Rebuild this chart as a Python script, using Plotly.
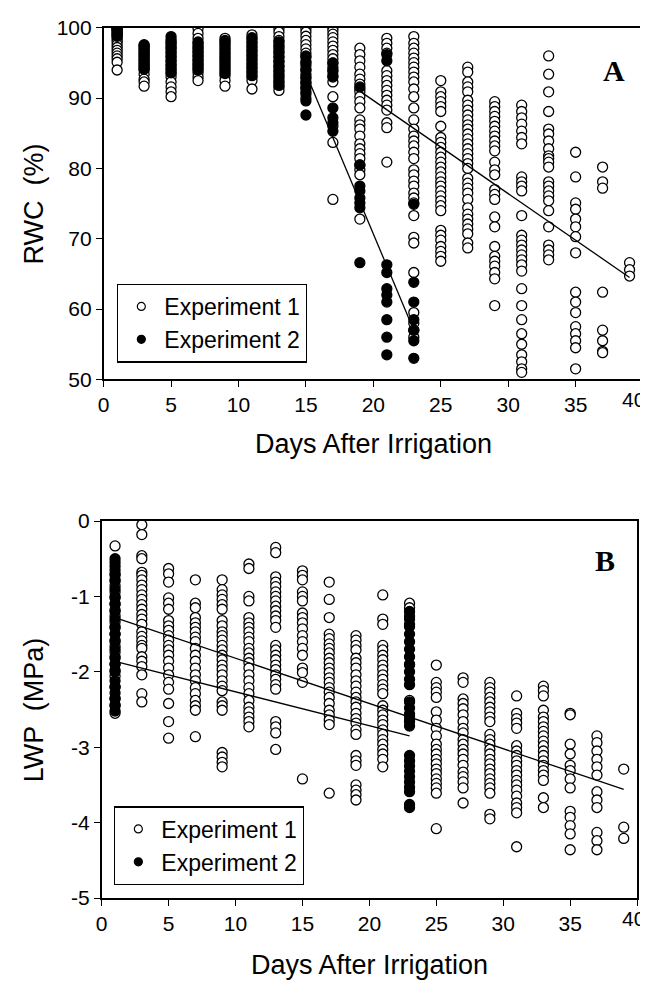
import plotly.graph_objects as go

# ---------------- Panel A : RWC (%) ----------------
rwc1_d01 = [100, 99.8, 99.5, 99.2, 98.9, 98.6, 98.3, 98.0, 97.6, 97.2, 96.8, 96.4, 96.0, 95.6, 95.1, 94.0]
rwc1_d03 = [97.5, 97.0, 96.5, 96.0, 95.5, 95.0, 94.5, 94.0, 93.4, 92.7, 92.3, 91.7]
rwc1_d05 = [98.0, 97.5, 97.0, 96.4, 95.8, 95.2, 94.6, 94.0, 93.5, 93.0, 92.3, 91.6, 90.9, 90.2]
rwc1_d07 = [99.9, 99.2, 98.5, 97.8, 97.2, 96.6, 96.0, 95.4, 94.8, 94.2, 93.6, 93.0, 92.5]
rwc1_d09 = [98.5, 98.0, 97.4, 96.8, 96.2, 95.6, 95.0, 94.4, 93.8, 93.2, 92.5, 91.7]
rwc1_d11 = [99.0, 98.4, 97.8, 97.2, 96.6, 96.0, 95.4, 94.8, 94.2, 93.6, 93.0, 92.5, 91.3]
rwc1_d13 = [99.9, 99.4, 98.75, 98.2, 97.6, 97.0, 96.4, 95.8, 95.2, 94.6, 94.0, 93.4, 92.8, 92.2, 91.6, 91.1]
rwc1_d15 = [99.9, 99.4, 98.8, 98.2, 97.6, 97.0, 96.4, 95.8, 95.2, 94.6, 94.0, 93.4, 92.8, 92.2, 91.6, 90.9, 90.0]
rwc1_d17 = [100, 99.6, 99.1, 98.6, 98.0, 97.4, 96.8, 96.2, 95.6, 95.0, 94.4, 93.8, 93.2, 92.3, 90.2, 86.0, 83.7, 75.6]
rwc1_d19 = [97.1, 96.2, 95.3, 94.4, 93.4, 92.7, 92.0, 91.3, 90.9, 90.2, 89.5, 88.6, 86.9, 86.2, 85.6, 84.6,
            83.5, 82.8, 82.1, 81.4, 80.5, 79.8, 79.1, 72.8]
rwc1_d21 = [98.5, 97.8, 97.1, 96.4, 93.9, 93.2, 92.5, 91.8, 91.1, 90.4, 89.7, 89.0, 88.3, 86.5, 85.8, 80.9]
rwc1_d23 = [98.75, 97.8, 97.1, 96.4, 95.7, 95.05, 94.4, 93.7, 93.0, 92.3, 91.3, 90.2, 88.6, 86.9, 85.6, 84.6,
            83.9, 83.2, 82.3, 81.4, 79.8, 79.1, 78.2, 77.5, 76.5, 75.8, 75.1, 73.3, 70.2, 69.4, 65.2,
            59.5, 58.0, 57.0, 56.0]
rwc1_d25 = [92.5, 90.9, 90.2, 89.5, 88.8, 88.1, 86.0, 84.4, 83.7, 83.0, 82.3, 81.6, 80.9, 80.2, 79.5, 78.8,
            78.1, 77.5, 76.8, 76.1, 75.4, 74.7, 74.0, 71.2, 70.5, 69.8, 68.9, 68.2, 67.5, 66.8]
rwc1_d27 = [94.4, 93.7, 92.3, 91.6, 90.9, 89.7, 89.0, 88.3, 87.6, 86.9, 86.2, 85.6, 84.9, 84.2, 83.5, 82.8,
            82.1, 81.4, 80.7, 80.0, 78.6, 77.9, 77.2, 76.5, 75.6, 74.4, 73.5, 72.8, 72.1, 71.4, 70.7, 69.4, 68.7]
rwc1_d29 = [89.5, 88.8, 88.1, 87.4, 86.7, 86.0, 85.3, 84.6, 83.9, 83.2, 82.5, 80.9, 79.8, 79.1, 77.0, 76.3,
            75.6, 73.1, 71.7, 68.9, 67.5, 66.8, 66.1, 65.2, 64.3, 60.5]
rwc1_d31 = [89.0, 88.1, 87.2, 86.3, 85.3, 84.4, 83.5, 78.8, 78.1, 77.5, 76.8, 73.3, 70.5, 69.8, 69.1, 68.4,
            67.7, 67.0, 66.3, 65.4, 62.9, 60.5, 58.5, 56.5, 55.0, 53.5, 52.5, 51.5, 51.0]
rwc1_d33 = [96.0, 93.4, 90.9, 88.1, 85.6, 84.9, 83.9, 82.8, 81.8, 81.4, 80.9, 80.2, 78.1, 77.5, 76.8, 76.1,
            75.4, 74.0, 71.7, 69.1, 68.4, 67.7, 67.0]
rwc1_d35 = [82.3, 78.8, 75.1, 74.2, 72.8, 71.7, 70.3, 68.0, 62.4, 61.0, 59.5, 57.5, 56.5, 55.5, 54.5, 51.5]
rwc1_d37 = [80.2, 78.1, 77.2, 62.4, 57.0, 55.5, 54.0, 53.8]
rwc1_d39 = [66.6, 65.6, 64.7]

rwc2_d01 = [100, 99.9, 99.7, 99.4, 99.1, 98.8]
rwc2_d03 = [97.6, 97.3, 96.9, 96.5, 96.1, 95.7, 95.3, 94.9, 94.5, 94.1]
rwc2_d05 = [98.75, 98.3, 97.8, 97.2, 96.6, 96.0, 95.4, 94.8, 94.2, 93.6]
rwc2_d07 = [98.0, 97.5, 97.0, 96.5, 96.0, 95.5, 95.0, 94.5, 94.0]
rwc2_d09 = [98.2, 97.7, 97.1, 96.5, 95.9, 95.3, 94.7, 94.1, 93.5]
rwc2_d11 = [98.6, 98.0, 97.4, 96.8, 96.2, 95.6, 95.0, 94.4, 93.8, 93.2]
rwc2_d13 = [98.0, 97.3, 96.6, 95.9, 95.2, 94.5, 93.8, 93.1, 92.4, 91.8]
rwc2_d15 = [96.0, 95.0, 94.0, 93.0, 92.2, 91.4, 90.6, 89.6, 87.6]
rwc2_d17 = [95.0, 94.0, 93.0, 88.6, 87.2, 86.5, 85.3]
rwc2_d19 = [91.6, 80.5, 77.5, 76.8, 75.8, 75.1, 74.4, 66.6]
rwc2_d21 = [96.2, 95.3, 66.3, 65.2, 62.9, 62.0, 61.0, 58.5, 56.0, 53.5]
rwc2_d23 = [74.9, 63.8, 61.0, 58.5, 57.0, 55.5, 53.0]

rwc_fit1_days = [19, 39]
rwc_fit1_vals = [91.0, 64.5]
rwc_fit2_days = [15, 23]
rwc_fit2_vals = [93.5, 57.0]

# ---------------- Panel B : LWP (MPa) ----------------
lwp1_d01 = [-0.33, -0.70, -0.78, -0.86, -0.94, -1.02, -1.10, -1.18, -1.26, -1.34, -1.42, -1.50, -1.58, -1.66,
            -1.74, -1.82, -1.90, -1.98, -2.06, -2.20, -2.35, -2.45, -2.55]
lwp1_d03 = [-0.05, -0.18, -0.46, -0.50, -0.68, -0.72, -0.78, -0.85, -0.91, -0.98, -1.04, -1.11, -1.17, -1.24,
            -1.30, -1.37, -1.47, -1.53, -1.59, -1.65, -1.69, -1.80, -1.86, -1.93, -2.04, -2.29, -2.40]
lwp1_d05 = [-0.63, -0.70, -0.81, -1.02, -1.09, -1.17, -1.32, -1.39, -1.45, -1.52, -1.58, -1.65, -1.71, -1.78,
            -1.86, -1.95, -2.04, -2.14, -2.23, -2.42, -2.66, -2.88]
lwp1_d07 = [-0.78, -1.09, -1.15, -1.28, -1.35, -1.41, -1.47, -1.54, -1.60, -1.69, -1.78, -1.86, -1.95, -2.04,
            -2.12, -2.21, -2.29, -2.38, -2.45, -2.51, -2.86]
lwp1_d09 = [-0.78, -0.91, -0.98, -1.04, -1.11, -1.17, -1.32, -1.39, -1.47, -1.52, -1.58, -1.65, -1.71, -1.78,
            -1.84, -1.91, -1.97, -2.04, -2.12, -2.19, -2.25, -2.40, -2.45, -2.51, -3.07, -3.13, -3.20, -3.26]
lwp1_d11 = [-0.57, -0.63, -1.00, -1.06, -1.28, -1.35, -1.41, -1.47, -1.54, -1.60, -1.69, -1.75, -1.82, -1.88,
            -1.95, -2.04, -2.12, -2.21, -2.29, -2.38, -2.47, -2.53, -2.60, -2.66, -2.73]
lwp1_d13 = [-0.35, -0.42, -0.74, -0.81, -0.87, -0.94, -1.00, -1.06, -1.13, -1.19, -1.26, -1.32, -1.41, -1.65,
            -1.71, -1.78, -1.84, -1.91, -1.97, -2.04, -2.10, -2.17, -2.23, -2.66, -2.73, -2.81, -3.03]
lwp1_d15 = [-0.66, -0.72, -0.78, -0.94, -1.00, -1.06, -1.22, -1.28, -1.35, -1.43, -1.52, -1.60, -1.69, -1.78,
            -1.95, -2.01, -2.14, -3.42]
lwp1_d17 = [-0.81, -1.04, -1.28, -1.50, -1.56, -1.63, -1.69, -1.75, -1.82, -1.88, -1.95, -2.01, -2.08, -2.14,
            -2.21, -2.27, -2.34, -2.42, -2.51, -2.57, -2.64, -2.70, -3.61]
lwp1_d19 = [-1.52, -1.58, -1.65, -1.71, -1.82, -1.88, -1.95, -2.04, -2.12, -2.19, -2.27, -2.34, -2.40, -2.47,
            -2.55, -2.62, -2.68, -2.77, -2.83, -3.11, -3.18, -3.24, -3.50, -3.57, -3.63, -3.70]
lwp1_d21 = [-0.98, -1.30, -1.37, -1.65, -1.71, -1.78, -1.84, -1.91, -1.97, -2.04, -2.10, -2.17, -2.23, -2.29,
            -2.45, -2.51, -2.57, -2.64, -2.70, -2.77, -2.83, -2.90, -2.96, -3.03, -3.09, -3.16, -3.26]
lwp1_d23 = [-1.09, -1.15, -1.26, -1.37, -1.91, -2.38, -2.59, -2.66]
lwp1_d25 = [-1.91, -2.14, -2.21, -2.27, -2.34, -2.53, -2.64, -2.75, -2.85, -2.96, -3.03, -3.09, -3.16, -3.22,
            -3.29, -3.35, -3.42, -3.48, -3.54, -3.61, -4.08]
lwp1_d27 = [-2.08, -2.14, -2.36, -2.42, -2.49, -2.57, -2.66, -2.75, -2.81, -2.90, -2.96, -3.03, -3.09, -3.16,
            -3.24, -3.33, -3.39, -3.46, -3.54, -3.74]
lwp1_d29 = [-2.14, -2.21, -2.27, -2.34, -2.40, -2.47, -2.53, -2.60, -2.66, -2.83, -2.90, -2.96, -3.03, -3.09,
            -3.16, -3.22, -3.29, -3.35, -3.42, -3.48, -3.54, -3.61, -3.89, -3.95]
lwp1_d31 = [-2.32, -2.55, -2.62, -2.68, -2.75, -2.98, -3.05, -3.11, -3.18, -3.24, -3.31, -3.37, -3.44, -3.50,
            -3.57, -3.65, -3.74, -3.80, -3.87, -4.32]
lwp1_d33 = [-2.19, -2.25, -2.32, -2.51, -2.60, -2.66, -2.73, -2.79, -2.85, -2.92, -2.98, -3.05, -3.11, -3.18,
            -3.24, -3.31, -3.37, -3.44, -3.67, -3.80]
lwp1_d35 = [-2.55, -2.57, -2.96, -3.09, -3.24, -3.31, -3.42, -3.54, -3.85, -3.93, -4.04, -4.15, -4.36]
lwp1_d37 = [-2.85, -2.94, -3.05, -3.16, -3.26, -3.37, -3.59, -3.70, -3.80, -4.13, -4.24, -4.36]
lwp1_d39 = [-3.29, -4.06, -4.21]

lwp2_d01 = [-0.50, -0.55, -0.60, -0.65, -0.72, -0.80, -0.90, -1.00, -1.10, -1.20, -1.30, -1.40, -1.50, -1.60,
            -1.70, -1.80, -1.90, -2.00, -2.12, -2.20, -2.28, -2.36, -2.44, -2.52]
lwp2_d23 = [-1.20, -1.30, -1.40, -1.50, -1.60, -1.70, -1.80, -1.90, -2.00, -2.10, -2.17, -2.40, -2.48, -2.56,
            -2.64, -2.72, -3.11, -3.18, -3.25, -3.32, -3.39, -3.46, -3.53, -3.59, -3.76, -3.80]

lwp_fit1_days = [1, 39]
lwp_fit1_vals = [-1.28, -3.56]
lwp_fit2_days = [1, 23]
lwp_fit2_vals = [-1.86, -2.85]

x_ticks = [0, 5, 10, 15, 20, 25, 30, 35]
x_tick_labels = ["0", "5", "10", "15", "20", "25", "30", "35"]
x_last_tick = 40
rwc_ticks = [50, 60, 70, 80, 90, 100]
rwc_tick_labels = ["50", "60", "70", "80", "90", "100"]
lwp_ticks = [-5, -4, -3, -2, -1, 0]
lwp_tick_labels = ["-5", "-4", "-3", "-2", "-1", "0"]

RWC1 = [(1, rwc1_d01), (3, rwc1_d03), (5, rwc1_d05), (7, rwc1_d07), (9, rwc1_d09), (11, rwc1_d11),
        (13, rwc1_d13), (15, rwc1_d15), (17, rwc1_d17), (19, rwc1_d19), (21, rwc1_d21), (23, rwc1_d23),
        (25, rwc1_d25), (27, rwc1_d27), (29, rwc1_d29), (31, rwc1_d31), (33, rwc1_d33), (35, rwc1_d35),
        (37, rwc1_d37), (39, rwc1_d39)]
RWC2 = [(1, rwc2_d01), (3, rwc2_d03), (5, rwc2_d05), (7, rwc2_d07), (9, rwc2_d09), (11, rwc2_d11),
        (13, rwc2_d13), (15, rwc2_d15), (17, rwc2_d17), (19, rwc2_d19), (21, rwc2_d21), (23, rwc2_d23)]
LWP1 = [(1, lwp1_d01), (3, lwp1_d03), (5, lwp1_d05), (7, lwp1_d07), (9, lwp1_d09), (11, lwp1_d11),
        (13, lwp1_d13), (15, lwp1_d15), (17, lwp1_d17), (19, lwp1_d19), (21, lwp1_d21), (23, lwp1_d23),
        (25, lwp1_d25), (27, lwp1_d27), (29, lwp1_d29), (31, lwp1_d31), (33, lwp1_d33), (35, lwp1_d35),
        (37, lwp1_d37), (39, lwp1_d39)]
LWP2 = [(1, lwp2_d01), (23, lwp2_d23)]


def flatten(groups):
    xs, ys = [], []
    for d, vals in groups:
        xs += [d] * len(vals)
        ys += vals
    return xs, ys


# The page puts the figure 8 px in from the window's top-left corner (default body margin),
# so the figure is sized to the remaining window area and page positions are shifted by it.
PAGE_OFF = 8
W, H = 648 - PAGE_OFF, 993 - PAGE_OFF


def px(xpage):
    return (xpage - PAGE_OFF) / W


def py(ypage):
    return 1 - (ypage - PAGE_OFF) / H


SANS = "Liberation Sans, Arial, sans-serif"
SERIF = "Liberation Serif, Times New Roman, serif"

open_marker = dict(symbol="circle", size=10, color="white", line=dict(color="black", width=1.3))
fill_marker = dict(symbol="circle", size=10, color="black", line=dict(color="black", width=1.3))

fig = go.Figure()

panels = [
    ("x", "y", RWC1, RWC2, rwc_fit1_days, rwc_fit1_vals, rwc_fit2_days, rwc_fit2_vals, "legend"),
    ("x2", "y2", LWP1, LWP2, lwp_fit1_days, lwp_fit1_vals, lwp_fit2_days, lwp_fit2_vals, "legend2"),
]
for xa, ya, g1, g2, f1x, f1y, f2x, f2y, leg in panels:
    x1, y1 = flatten(g1)
    x2, y2 = flatten(g2)
    fig.add_trace(go.Scatter(x=x1, y=y1, mode="markers", marker=open_marker, xaxis=xa, yaxis=ya,
                             showlegend=False, hoverinfo="skip"))
    fig.add_trace(go.Scatter(x=x2, y=y2, mode="markers", marker=fill_marker, xaxis=xa, yaxis=ya,
                             showlegend=False, hoverinfo="skip"))
    fig.add_trace(go.Scatter(x=f1x, y=f1y, mode="lines", line=dict(color="black", width=1.3),
                             xaxis=xa, yaxis=ya, showlegend=False))
    fig.add_trace(go.Scatter(x=f2x, y=f2y, mode="lines", line=dict(color="black", width=1.3),
                             xaxis=xa, yaxis=ya, showlegend=False))
    # legend entries
    fig.add_trace(go.Scatter(x=[None], y=[None], mode="markers", name="Experiment 1",
                             marker=dict(symbol="circle", size=8, color="white",
                                         line=dict(color="black", width=1.2)),
                             xaxis=xa, yaxis=ya, legend=leg))
    fig.add_trace(go.Scatter(x=[None], y=[None], mode="markers", name="Experiment 2",
                             marker=dict(symbol="circle", size=8, color="black",
                                         line=dict(color="black", width=1.2)),
                             xaxis=xa, yaxis=ya, legend=leg))

axis_common = dict(showgrid=False, zeroline=False, showline=True, linecolor="black", linewidth=1.5,
                   mirror=True, ticks="outside", ticklen=6, tickwidth=1.3, tickcolor="black",
                   tickfont=dict(family=SANS, size=21, color="black"))

# panel frames in page pixels (as measured on the reference)
A_top, A_bot, A_left, A_right = 16, 376, 98.5, 643
B_top, B_bot, B_left, B_right = 521, 907, 96.5, 637

fig.update_layout(
    width=W, height=H, margin=dict(l=0, r=0, t=0, b=0),
    paper_bgcolor="white", plot_bgcolor="white",
    xaxis=dict(domain=[px(A_left), px(A_right)], range=[0, 40], tickvals=x_ticks + [x_last_tick],
               ticktext=x_tick_labels + [""], anchor="y", **axis_common),
    yaxis=dict(domain=[py(A_bot), py(A_top)], range=[50, 100], tickvals=rwc_ticks,
               ticktext=rwc_tick_labels, anchor="x", **axis_common),
    xaxis2=dict(domain=[px(B_left), px(B_right)], range=[0, 40], tickvals=x_ticks + [x_last_tick],
                ticktext=x_tick_labels + [""], anchor="y2", **axis_common),
    yaxis2=dict(domain=[py(B_bot), py(B_top)], range=[-5, 0], tickvals=lwp_ticks,
                ticktext=lwp_tick_labels, anchor="x2", **axis_common),
    legend=dict(x=px(112), y=py(278), xanchor="left", yanchor="top", bgcolor="white",
                bordercolor="black", borderwidth=1.3, font=dict(family=SANS, size=23, color="black"),
                itemsizing="trace", tracegroupgap=0, itemwidth=36),
    legend2=dict(x=px(109), y=py(813), xanchor="left", yanchor="top", bgcolor="white",
                 bordercolor="black", borderwidth=1.3, font=dict(family=SANS, size=23, color="black"),
                 itemsizing="trace", tracegroupgap=0, itemwidth=36),
    showlegend=True,
)

# the last x tick label ("40") sits at the very right edge of the page: keep it inside
for ybase in (A_bot, B_bot):
    fig.add_annotation(text=str(x_last_tick), x=px(647), xref="paper", y=py(ybase + 21),
                       yref="paper", showarrow=False, xanchor="right", yanchor="middle",
                       font=dict(family=SANS, size=21, color="black"))

title_font = dict(family=SANS, size=27, color="black")
fig.add_annotation(text="Days After Irrigation", x=px((A_left + A_right) / 2), y=py(442),
                   xref="paper", yref="paper", showarrow=False, font=title_font,
                   xanchor="center", yanchor="middle")
fig.add_annotation(text="Days After Irrigation", x=px((B_left + B_right) / 2), y=py(976),
                   xref="paper", yref="paper", showarrow=False, font=title_font,
                   xanchor="center", yanchor="middle")
fig.add_annotation(text="RWC  (%)", x=px(28), y=py((A_top + A_bot) / 2), textangle=-90,
                   xref="paper", yref="paper", showarrow=False, font=title_font,
                   xanchor="center", yanchor="middle")
fig.add_annotation(text="LWP  (MPa)", x=px(28), y=py((B_top + B_bot) / 2), textangle=-90,
                   xref="paper", yref="paper", showarrow=False, font=title_font,
                   xanchor="center", yanchor="middle")
fig.add_annotation(text="<b>A</b>", x=px(614), y=py(60), xref="paper", yref="paper",
                   showarrow=False, font=dict(family=SERIF, size=30, color="black"),
                   xanchor="center", yanchor="middle")
fig.add_annotation(text="<b>B</b>", x=px(605), y=py(561), xref="paper", yref="paper",
                   showarrow=False, font=dict(family=SERIF, size=30, color="black"),
                   xanchor="center", yanchor="middle")

fig.write_html("out.html")
